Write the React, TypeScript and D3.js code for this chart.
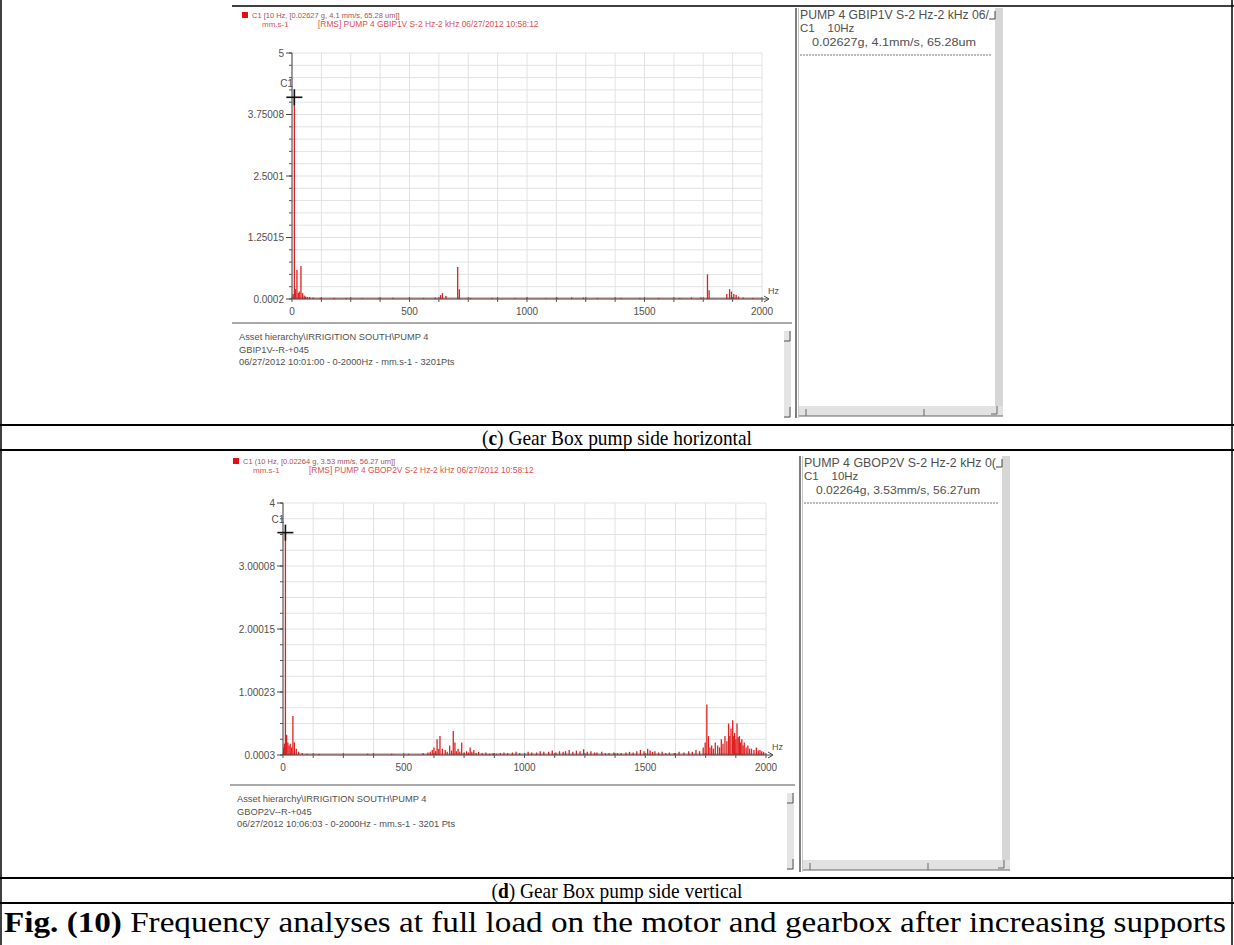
import React from "react";
import * as d3 from "d3";

const W = 1234;
const H = 945;

// ---------- data ----------
const freqTicks = [0, 500, 1000, 1500, 2000];

const yTicksC = [0, 1.25, 2.5, 3.75, 5];
const yLabelsC = ["0.0002", "1.25015", "2.5001", "3.75008", "5"];
const yTicksD = [0, 1, 2, 3, 4];
const yLabelsD = ["0.0003", "1.00023", "2.00015", "3.00008", "4"];

// [frequency Hz, amplitude mm/s]
const spectrumC: [number, number][] = [
  [5, 0.1], [10, 4.1], [15, 0.2], [21, 0.59], [27, 0.12], [31, 0.15], [38, 0.67], [45, 0.12],
  [52, 0.07], [58, 0.05], [66, 0.04], [75, 0.04], [90, 0.03], [120, 0.02], [180, 0.02],
  [230, 0.02], [300, 0.015], [370, 0.02], [430, 0.025], [500, 0.03], [560, 0.02],
  [610, 0.03], [632, 0.08], [640, 0.12], [655, 0.06], [705, 0.65], [712, 0.2], [760, 0.02],
  [850, 0.02], [950, 0.02], [1000, 0.02], [1080, 0.015], [1130, 0.02], [1190, 0.03],
  [1240, 0.03], [1300, 0.02], [1400, 0.02], [1480, 0.02], [1560, 0.02], [1650, 0.02],
  [1700, 0.03], [1740, 0.03], [1768, 0.5], [1775, 0.18], [1850, 0.1], [1862, 0.2],
  [1870, 0.15], [1880, 0.1], [1890, 0.08], [1900, 0.05], [1920, 0.03], [1960, 0.02],
];

const spectrumD: [number, number][] = [
  [3, 0.12], [6, 0.18], [10, 3.53], [15, 0.32], [20, 0.2], [25, 0.15], [30, 0.18],
  [36, 0.12], [41, 0.62], [47, 0.2], [55, 0.1], [65, 0.05], [80, 0.03], [100, 0.02],
  [150, 0.015], [250, 0.015], [350, 0.02], [450, 0.02], [520, 0.02], [580, 0.03],
  [600, 0.04], [610, 0.05], [618, 0.08], [625, 0.12], [632, 0.06], [638, 0.25], [645, 0.1],
  [650, 0.3], [660, 0.1], [672, 0.08], [680, 0.05], [690, 0.15], [698, 0.07], [705, 0.38],
  [712, 0.2], [718, 0.06], [725, 0.1], [732, 0.05], [740, 0.2], [750, 0.04], [760, 0.06],
  [768, 0.04], [775, 0.12], [782, 0.05], [790, 0.08], [800, 0.03], [810, 0.05], [825, 0.03],
  [840, 0.04], [855, 0.02], [870, 0.03], [885, 0.02], [900, 0.03], [915, 0.04], [930, 0.03],
  [950, 0.04], [965, 0.05], [980, 0.03], [1000, 0.03], [1015, 0.05], [1030, 0.04],
  [1050, 0.04], [1065, 0.06], [1080, 0.05], [1100, 0.05], [1115, 0.07], [1130, 0.04],
  [1145, 0.06], [1160, 0.05], [1170, 0.06], [1185, 0.08], [1200, 0.05], [1215, 0.07],
  [1230, 0.06], [1245, 0.09], [1260, 0.05], [1275, 0.06], [1290, 0.04], [1300, 0.04],
  [1320, 0.05], [1335, 0.03], [1350, 0.03], [1370, 0.04], [1385, 0.03], [1400, 0.03],
  [1420, 0.04], [1435, 0.05], [1450, 0.04], [1465, 0.06], [1480, 0.08], [1495, 0.06],
  [1510, 0.1], [1520, 0.07], [1530, 0.05], [1540, 0.06], [1555, 0.04], [1570, 0.05],
  [1585, 0.03], [1600, 0.04], [1620, 0.03], [1640, 0.05], [1660, 0.04], [1680, 0.06],
  [1695, 0.05], [1710, 0.08], [1725, 0.06], [1740, 0.12], [1748, 0.2], [1755, 0.8],
  [1762, 0.3], [1768, 0.12], [1775, 0.15], [1782, 0.1], [1790, 0.2], [1800, 0.15],
  [1808, 0.12], [1815, 0.25], [1822, 0.18], [1830, 0.3], [1838, 0.22], [1845, 0.5],
  [1850, 0.3], [1855, 0.42], [1862, 0.55], [1866, 0.3], [1870, 0.35], [1875, 0.25],
  [1880, 0.5], [1885, 0.28], [1890, 0.3], [1895, 0.2], [1900, 0.25], [1905, 0.15],
  [1910, 0.2], [1918, 0.12], [1925, 0.15], [1932, 0.1], [1940, 0.1], [1950, 0.08],
  [1960, 0.12], [1968, 0.07], [1975, 0.08], [1982, 0.06], [1990, 0.05],
];

const cursorC = 4.1;
const cursorD = 3.53;

const legendC = [
  "C1 [10 Hz, [0.02627 g, 4.1 mm/s, 65.28 um]]",
  "mm.s-1",
  "[RMS]  PUMP 4 GBIP1V S-2 Hz-2 kHz 06/27/2012 10:58:12",
];
const legendD = [
  "C1 (10 Hz, [0.02264 g, 3.53 mm/s, 56.27 um]]",
  "mm.s-1",
  "[RMS]  PUMP 4 GBOP2V S-2 Hz-2 kHz 06/27/2012 10:58:12",
];
const infoC = [
  "Asset hierarchy\\IRRIGITION SOUTH\\PUMP 4",
  "GBIP1V--R-+045",
  "06/27/2012 10:01:00 - 0-2000Hz - mm.s-1 - 3201Pts",
];
const infoD = [
  "Asset hierarchy\\IRRIGITION SOUTH\\PUMP 4",
  "GBOP2V--R-+045",
  "06/27/2012 10:06:03 - 0-2000Hz - mm.s-1 - 3201 Pts",
];
const sideC = ["PUMP 4 GBIP1V S-2 Hz-2 kHz 06/", "C1    10Hz", "0.02627g, 4.1mm/s, 65.28um"];
const sideD = ["PUMP 4 GBOP2V S-2 Hz-2 kHz 0(", "C1    10Hz", "0.02264g, 3.53mm/s, 56.27um"];

const captionC = ["c", " Gear Box pump side horizontal"];
const captionD = ["d", " Gear Box pump side vertical"];
const figCaption = ["Fig. (10)", " Frequency analyses at full load on the motor and gearbox after increasing supports"];

// ---------- layout ----------
const layoutC = {
  lx: 242, ly: 12, x0: 292, x1: 762, yT: 53, yB: 299,
  iT: 323, iL: 232, iR: 792, iB: 420,
  sL: 796, sR: 1003, sT: 8, sB: 418,
};
const layoutD = {
  lx: 233, ly: 458, x0: 283, x1: 766, yT: 503, yB: 755,
  iT: 785, iL: 230, iR: 795, iB: 872,
  sL: 800, sR: 1010, sT: 456, sB: 872,
};

const SW = "'Liberation Sans', Arial, sans-serif";
const SERIF = "'Liberation Serif', 'Times New Roman', serif";
const RED = "#e02020";
const TXT = "#505050";

function Panel({ L, data, yTicks, yLabels, yMax, legend, info, side, cursor }: any) {
  const x = d3.scaleLinear().domain([0, 2000]).range([L.x0, L.x1]);
  const y = d3.scaleLinear().domain([0, yMax]).range([L.yB, L.yT]);
  const vGrid = d3.range(0, 2001, 125);
  const hGrid = d3.range(0, yMax + 1e-9, 0.25);
  const cx = x(10);
  const cy = y(cursor);
  return (
    <g>
      {/* legend */}
      <rect x={L.lx} y={L.ly} width={6} height={6} fill="#e01010" />
      <text x={L.lx + 10} y={L.ly + 6} fontSize={7.5} fill="#a85050" fontFamily={SW}>{legend[0]}</text>
      <text x={L.lx + 20} y={L.ly + 15} fontSize={8} fill="#e05050" fontFamily={SW}>{legend[1]}</text>
      <text x={L.lx + 76} y={L.ly + 15} fontSize={8.4} fill="#e05050" fontFamily={SW}>{legend[2]}</text>

      {/* grid */}
      {vGrid.map((f) => (
        <line key={"v" + f} x1={x(f)} x2={x(f)} y1={L.yT} y2={L.yB} stroke="#e2e2e2" strokeWidth={1} />
      ))}
      {hGrid.map((v) => (
        <line key={"h" + v} x1={L.x0} x2={L.x1} y1={y(v)} y2={y(v)} stroke="#e2e2e2" strokeWidth={1} />
      ))}

      {/* spectrum */}
      <line x1={x(0)} x2={x(2000)} y1={y(0) - 1} y2={y(0) - 1} stroke={RED} strokeWidth={1.2} opacity={0.7} />
      {data.map(([f, a]: [number, number], i: number) => (
        <line key={"s" + i} x1={x(f)} x2={x(f)} y1={y(0)} y2={y(a)} stroke={RED} strokeWidth={1.3} />
      ))}

      {/* axes */}
      <line x1={L.x0} x2={L.x0} y1={L.yB} y2={L.yT} stroke="#444" strokeWidth={1} />
      <line x1={L.x0} x2={L.x1 + 6} y1={L.yB} y2={L.yB} stroke="#444" strokeWidth={1} />
      <path d={`M${L.x1 + 2},${L.yB - 3} L${L.x1 + 7},${L.yB} L${L.x1 + 2},${L.yB + 3}`} fill="none" stroke="#444" strokeWidth={1} />
      {hGrid.map((v) => (
        <line key={"yt" + v} x1={L.x0 - 3} x2={L.x0} y1={y(v)} y2={y(v)} stroke="#555" strokeWidth={1} />
      ))}
      {yTicks.map((v: number, i: number) => (
        <g key={"yl" + i}>
          <line x1={L.x0 - 6} x2={L.x0} y1={y(v)} y2={y(v)} stroke="#444" strokeWidth={1} />
          <text x={L.x0 - 8} y={y(v) + 3.5} textAnchor="end" fontSize={10} fill={TXT} fontFamily={SW}>{yLabels[i]}</text>
        </g>
      ))}
      {vGrid.map((f) => (
        <line key={"xt" + f} x1={x(f)} x2={x(f)} y1={L.yB - 2} y2={L.yB + 3} stroke="#555" strokeWidth={1} />
      ))}
      {freqTicks.map((f) => (
        <text key={"xl" + f} x={x(f)} y={L.yB + 16} textAnchor="middle" fontSize={10} fill={TXT} fontFamily={SW}>{f}</text>
      ))}
      <text x={L.x1 + 6} y={L.yB - 5} fontSize={9} fill={TXT} fontFamily={SW}>Hz</text>

      {/* cursor */}
      <line x1={cx - 8} x2={cx + 8} y1={cy} y2={cy} stroke="#111" strokeWidth={1.6} />
      <line x1={cx} x2={cx} y1={cy - 8} y2={cy + 8} stroke="#111" strokeWidth={1.6} />
      <text x={cx - 14} y={cy - 10} fontSize={10} fill={TXT} fontFamily={SW}>C1</text>

      {/* info box */}
      <line x1={L.iL} x2={L.iR} y1={L.iT} y2={L.iT} stroke="#555" strokeWidth={1.2} />
      {info.map((t: string, i: number) => (
        <text key={"in" + i} x={L.iL + 7} y={L.iT + 17 + i * 12.5} fontSize={9.3} fill={TXT} fontFamily={SW}>{t}</text>
      ))}
      <rect x={L.iR - 8} y={L.iT + 8} width={7} height={L.iB - L.iT - 10} fill="#e4e4e4" />
      <path d={`M${L.iR - 8},${L.iT + 18} L${L.iR - 2},${L.iT + 18} L${L.iR - 2},${L.iT + 8}`} fill="none" stroke="#555" strokeWidth={1} />
      <path d={`M${L.iR - 8},${L.iB - 3} L${L.iR - 2},${L.iB - 3} L${L.iR - 2},${L.iB - 13}`} fill="none" stroke="#555" strokeWidth={1} />

      {/* side panel */}
      <line x1={L.sL} x2={L.sL} y1={L.sT} y2={L.sB} stroke="#555" strokeWidth={1.5} />
      <line x1={L.sL + 2.5} x2={L.sL + 2.5} y1={L.sT} y2={L.sB} stroke="#c8c8c8" strokeWidth={1} />
      <rect x={L.sR - 8} y={L.sT} width={8} height={L.sB - L.sT - 12} fill="#d6d6d6" />
      <path d={`M${L.sR - 14},${L.sT + 11} L${L.sR - 8},${L.sT + 11} L${L.sR - 8},${L.sT + 3}`} fill="none" stroke="#444" strokeWidth={1} />
      <text x={L.sL + 4} y={L.sT + 11} fontSize={12} fill={TXT} fontFamily={SW} textLength={L.sR - L.sL - 18} lengthAdjust="spacingAndGlyphs">{side[0]}</text>
      <text x={L.sL + 4} y={L.sT + 24} fontSize={11.5} fill={TXT} fontFamily={SW} style={{ whiteSpace: "pre" }}>{side[1]}</text>
      <text x={L.sL + 16} y={L.sT + 38} fontSize={11.5} fill={TXT} fontFamily={SW} textLength={164} lengthAdjust="spacingAndGlyphs">{side[2]}</text>
      <line x1={L.sL + 4} x2={L.sR - 12} y1={L.sT + 47} y2={L.sT + 47} stroke="#777" strokeWidth={1} strokeDasharray="2,1" />
      <rect x={L.sL + 3} y={L.sB - 12} width={L.sR - L.sL - 3} height={10} fill="#e2e2e2" />
      <line x1={L.sL + 3} x2={L.sR} y1={L.sB - 2} y2={L.sB - 2} stroke="#666" strokeWidth={1} />
      <path d={`M${L.sL + 10},${L.sB - 9} L${L.sL + 10},${L.sB - 2}`} stroke="#666" strokeWidth={1} />
      <path d={`M${L.sL + 128},${L.sB - 9} L${L.sL + 128},${L.sB - 2}`} stroke="#666" strokeWidth={1} />
      <path d={`M${L.sR - 12},${L.sB - 4} L${L.sR - 6},${L.sB - 4} L${L.sR - 6},${L.sB - 12}`} fill="none" stroke="#666" strokeWidth={1} />
    </g>
  );
}

export default function App() {
  return (
    <svg
      width={W}
      height={H}
      viewBox={`0 0 ${W} ${H}`}
      style={{ position: "absolute", left: 0, top: 0, background: "#fff" }}
    >
      <rect x={0} y={0} width={W} height={H} fill="#fff" />
      <Panel L={layoutC} data={spectrumC} yTicks={yTicksC} yLabels={yLabelsC} yMax={5}
        legend={legendC} info={infoC} side={sideC} cursor={cursorC} />
      <Panel L={layoutD} data={spectrumD} yTicks={yTicksD} yLabels={yLabelsD} yMax={4}
        legend={legendD} info={infoD} side={sideD} cursor={cursorD} />

      {/* table borders */}
      <line x1={232} x2={W} y1={6} y2={6} stroke="#000" strokeWidth={1.5} />
      <line x1={1} x2={1} y1={0} y2={H} stroke="#000" strokeWidth={1.5} />
      <line x1={W - 2} x2={W - 2} y1={0} y2={H} stroke="#000" strokeWidth={1.5} />
      <line x1={0} x2={W} y1={425} y2={425} stroke="#000" strokeWidth={2} />
      <line x1={0} x2={W} y1={450} y2={450} stroke="#000" strokeWidth={2} />
      <line x1={0} x2={W} y1={878} y2={878} stroke="#000" strokeWidth={2} />
      <line x1={0} x2={W} y1={903} y2={903} stroke="#000" strokeWidth={2} />

      <text x={617} y={445} textAnchor="middle" fontSize={21} fontFamily={SERIF} fill="#000" textLength={270} lengthAdjust="spacingAndGlyphs">
        (<tspan fontWeight="bold">{captionC[0]}</tspan>){captionC[1]}
      </text>
      <text x={617} y={898} textAnchor="middle" fontSize={21} fontFamily={SERIF} fill="#000" textLength={251} lengthAdjust="spacingAndGlyphs">
        (<tspan fontWeight="bold">{captionD[0]}</tspan>){captionD[1]}
      </text>
      <text x={4} y={932} fontSize={30} fontFamily={SERIF} fill="#000" textLength={1222} lengthAdjust="spacingAndGlyphs">
        <tspan fontWeight="bold">{figCaption[0]}</tspan>{figCaption[1]}
      </text>
    </svg>
  );
}
